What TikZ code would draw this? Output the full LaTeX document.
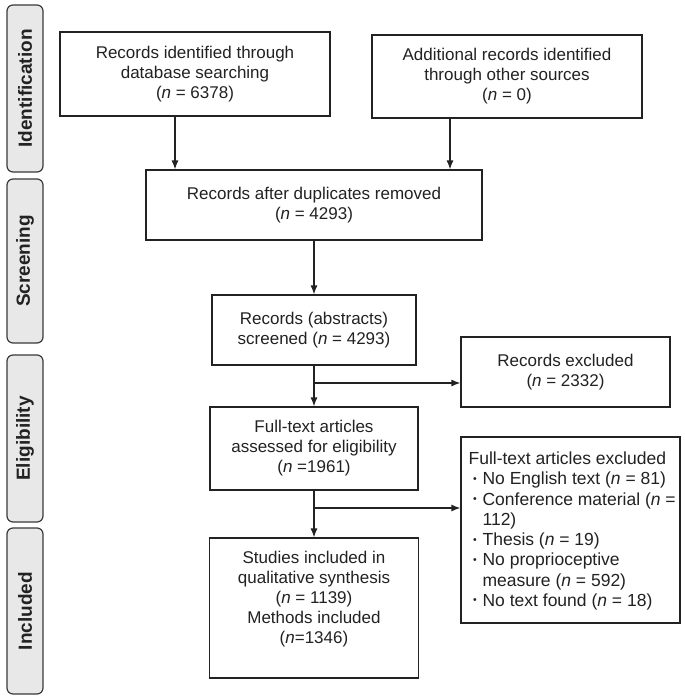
\documentclass[tikz,border=0pt]{standalone}
\usepackage{fontspec}
\setmainfont{Liberation Sans}
\usetikzlibrary{arrows.meta,calc}
\definecolor{barfill}{HTML}{E8E8E8}
\definecolor{barline}{HTML}{3A3A3A}
\definecolor{ink}{HTML}{222222}
\newcommand{\bul}{\makebox[14pt][l]{\hspace{4.5pt}\raisebox{0.28ex}{\scalebox{0.6}{\textbullet}}}}
\begin{document}
\begin{tikzpicture}[x=1pt,y=-1pt,
  every node/.style={font=\fontsize{17}{20}\selectfont, text=ink},
  flowbox/.style={draw=ink, line width=1.2pt, rectangle, align=center, inner sep=0pt},
  sidebar/.style={draw=barline, fill=barfill, line width=1.2pt, rounded corners=6pt,
     rotate=90, minimum height=36pt, inner sep=0pt, font=\fontsize{19}{22}\selectfont\bfseries},
  arr/.style={draw=ink, line width=1.2pt, -{Latex[length=9pt,width=7pt]}},
  ln/.style={draw=ink, line width=1.2pt}]
\useasboundingbox (0,0) rectangle (685,699);
\fill[white] (0,0) rectangle (685,699);

% side bars
\node[sidebar, minimum width=167pt] (sid) at (25,88.5) {Identification};
\node[sidebar, minimum width=164pt] (ssc) at (25,261) {Screening};
\node[sidebar, minimum width=167pt] (sel) at (25,438.5) {Eligibility};
\node[sidebar, minimum width=166pt] (sin) at (25,611) {Included};

% boxes
\node[flowbox, minimum width=270pt, minimum height=84pt] (b1) at (195,74)
  {Records identified through\\database searching\\(\textit{n} = 6378)};
\node[flowbox, minimum width=270pt, minimum height=83pt] (b2) at (507,76.5)
  {Additional records identified\\through other sources\\(\textit{n} = 0)};
\node[flowbox, minimum width=336pt, minimum height=70pt] (b3) at (314,205)
  {Records after duplicates removed\\(\textit{n} = 4293)};
\node[flowbox, minimum width=204pt, minimum height=70pt] (b4) at (314,330)
  {Records (abstracts)\\screened (\textit{n} = 4293)};
\node[flowbox, minimum width=209pt, minimum height=70pt] (b5) at (565.5,372)
  {Records excluded\\(\textit{n} = 2332)};
\node[flowbox, minimum width=208pt, minimum height=83pt] (b6) at (314,448.5)
  {Full-text articles\\assessed for eligibility\\(\textit{n} =1961)};
\node[flowbox, minimum width=219pt, minimum height=186pt] (b7) at (570.5,530) {};
\node[flowbox, minimum width=209pt, minimum height=140pt] (b8) at (314,608) {};

\node[anchor=west, inner sep=0pt, align=left, font=\fontsize{17.5}{20.3}\selectfont]
  (t7) at ([xshift=8pt,yshift=-1pt]b7.west)
  {Full-text articles excluded\\
   \bul No English text (\textit{n} = 81)\\
   \bul Conference material (\textit{n}~=\\
   \hspace*{14pt}112)\\
   \bul Thesis (\textit{n} = 19)\\
   \bul No proprioceptive\\
   \hspace*{14pt}measure (\textit{n} = 592)\\
   \bul No text found (\textit{n} = 18)};
\node[inner sep=0pt, align=center] (t8) at (314,599)
  {Studies included in\\qualitative synthesis\\(\textit{n} = 1139)\\Methods included\\(\textit{n}=1346)};

% connectors
\coordinate (a1) at (175,0);
\coordinate (a2) at (450,0);
\coordinate (j1) at (314,383);
\coordinate (j2) at (314,508);
\draw[arr] (b1.south -| a1) -- (b3.north -| a1);
\draw[arr] (b2.south -| a2) -- (b3.north -| a2);
\draw[arr] (b3.south) -- (b4.north);
\draw[arr] (b4.south) -- (b6.north);
\draw[arr] (j1) -- (j1 -| b5.west);
\draw[arr] (b6.south) -- (b8.north);
\draw[arr] (j2) -- (j2 -| b7.west);
\end{tikzpicture}
\end{document}
